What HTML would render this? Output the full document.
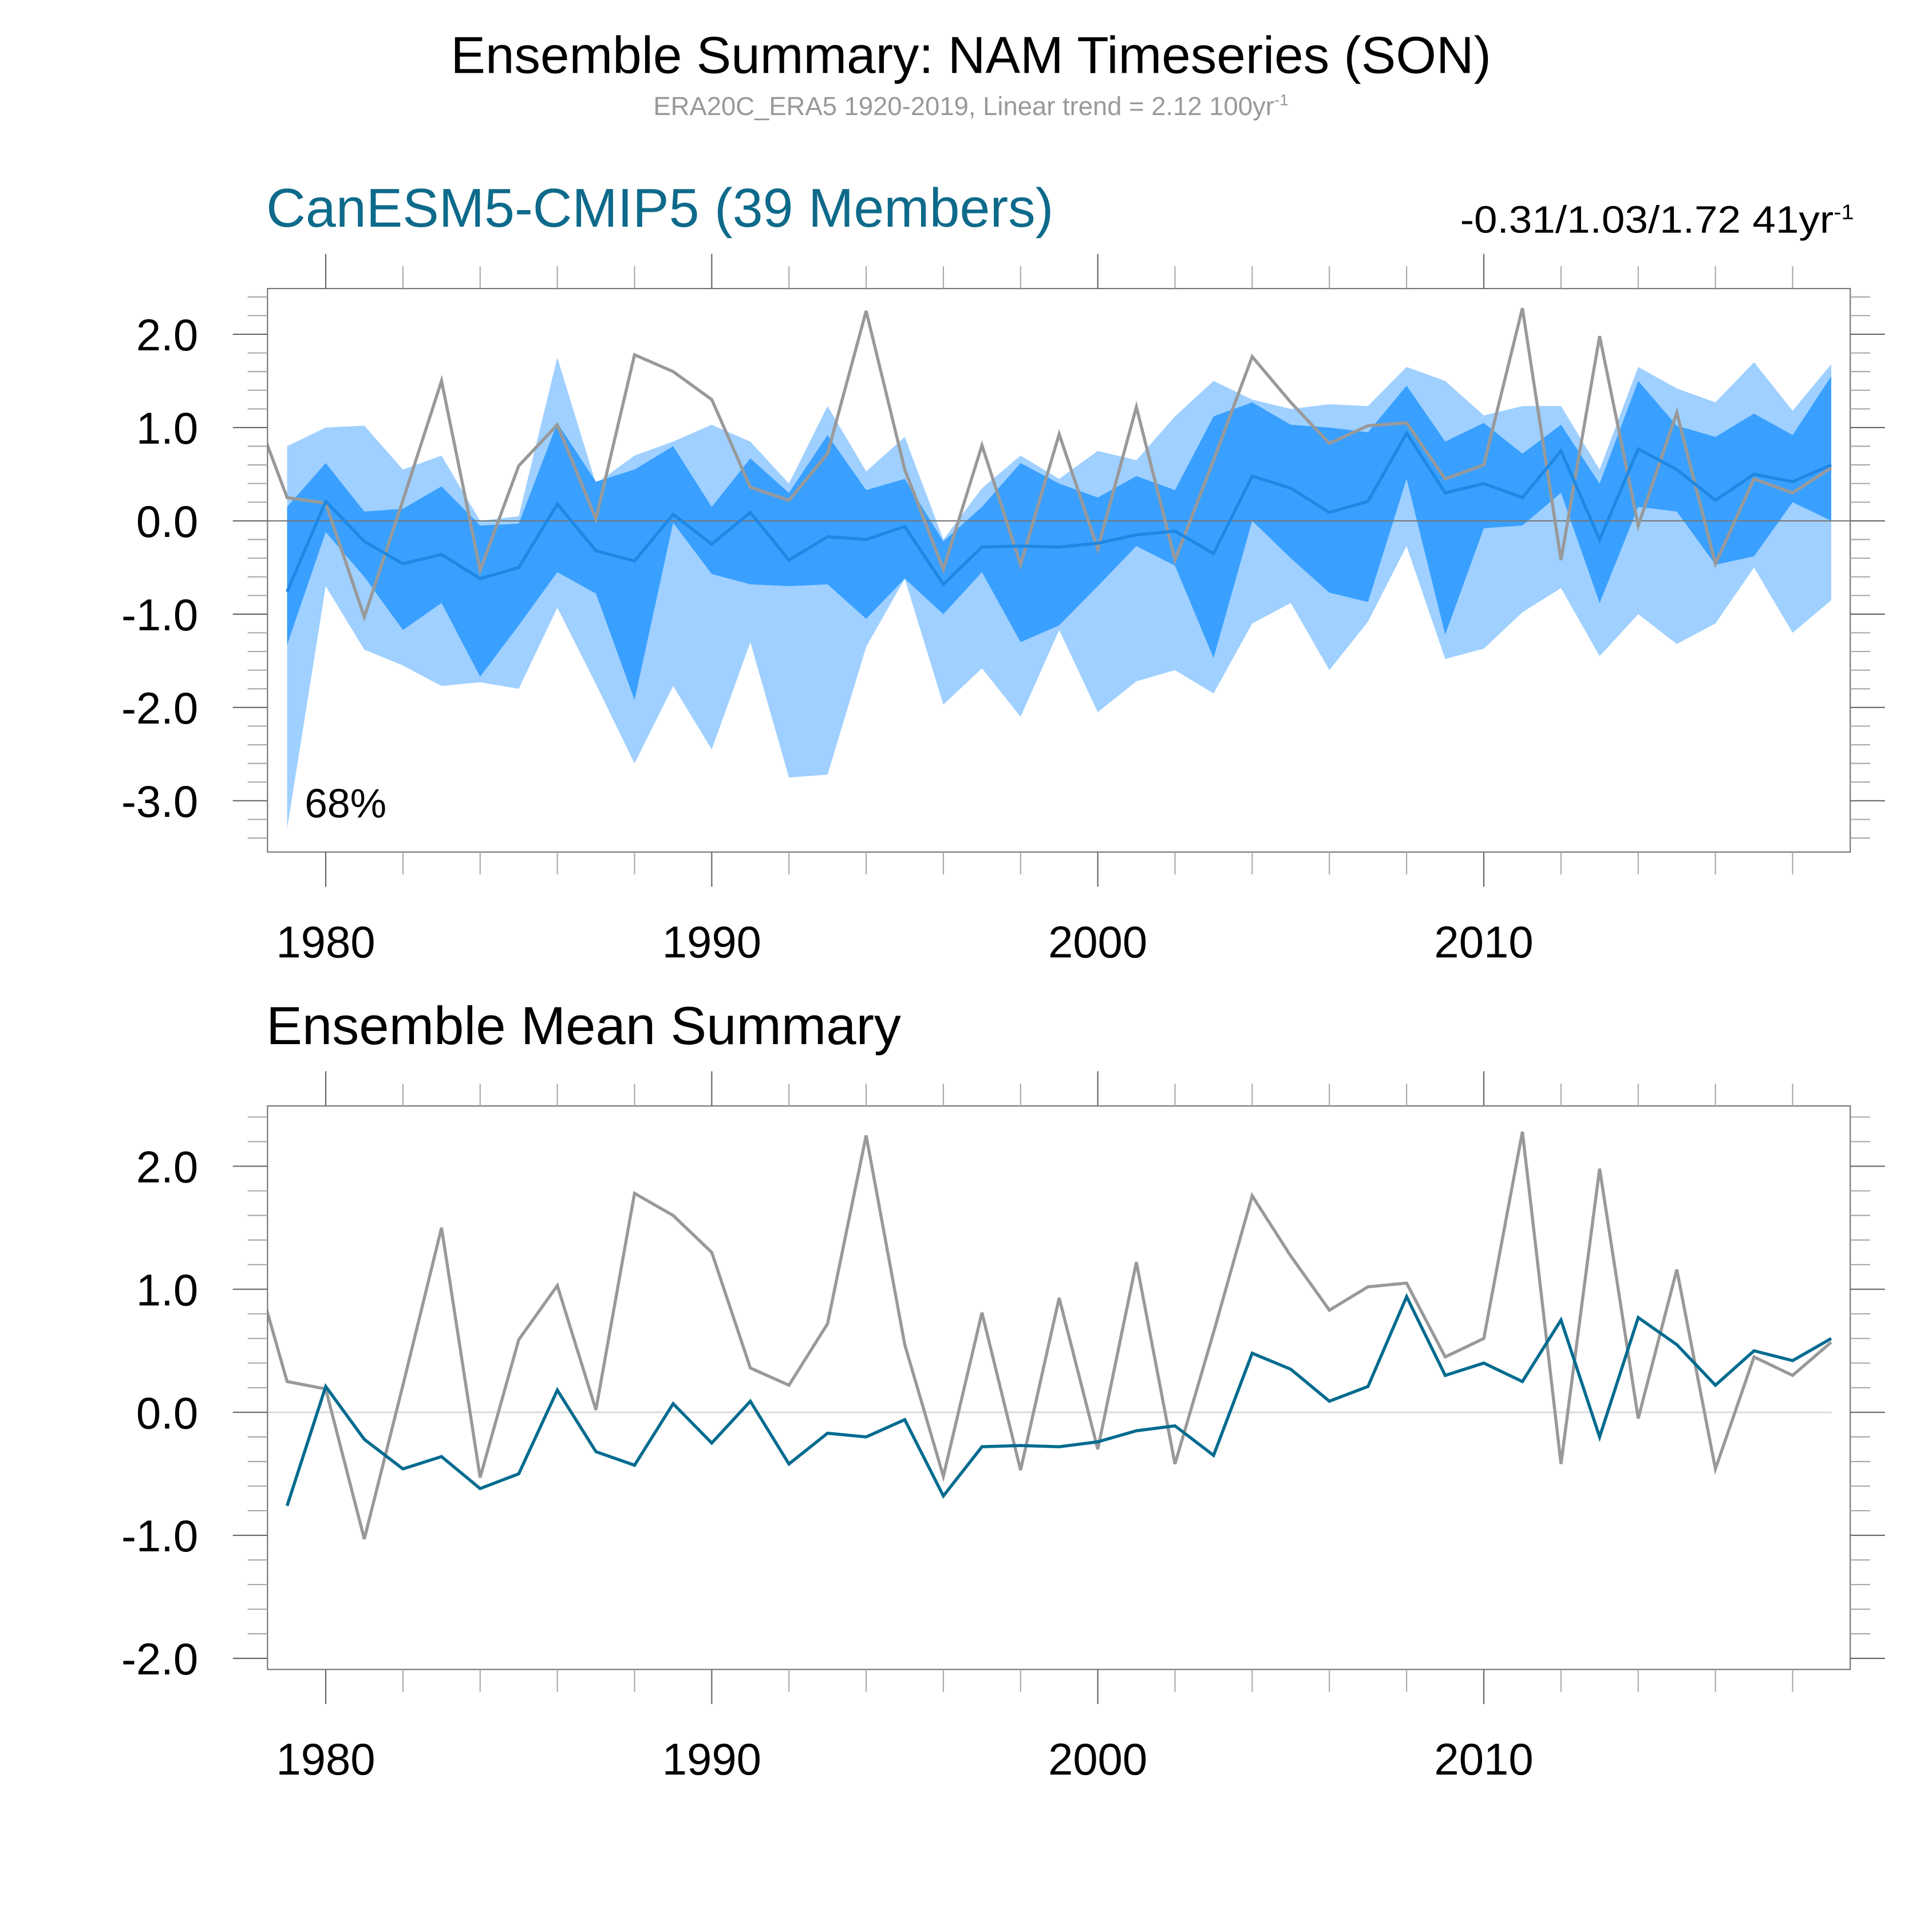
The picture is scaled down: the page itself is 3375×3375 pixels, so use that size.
<!DOCTYPE html>
<html><head><meta charset="utf-8"><style>
html,body{margin:0;padding:0;background:#fff}
svg{display:block;font-family:"Liberation Sans",sans-serif}
</style></head><body>
<svg id="chart" width="3375" height="3375" viewBox="0 0 1560 1560" xmlns="http://www.w3.org/2000/svg">
<rect width="1560" height="1560" fill="#fff"/>
<text x="784" y="59" font-size="42" text-anchor="middle" fill="#000">Ensemble Summary: NAM Timeseries (SON)</text>
<text x="784" y="93" font-size="21" text-anchor="middle" fill="#999">ERA20C_ERA5 1920-2019, Linear trend = 2.12 100yr<tspan dy="-8" font-size="13">-1</tspan></text>
<text x="215" y="183" font-size="44" fill="#0e6a8a">CanESM5-CMIP5 (39 Members)</text>
<text x="1497" y="188" font-size="31" text-anchor="end" fill="#000" textLength="318" lengthAdjust="spacingAndGlyphs">-0.31/1.03/1.72 41yr<tspan dy="-11" font-size="17">-1</tspan></text>
<text x="215" y="843" font-size="43.5" fill="#000">Ensemble Mean Summary</text>
<g id="top"></g>
<g id="bot"></g>
</svg>
<script>
const years=[];for(let y=1979;y<=2019;y++)years.push(y);
const obsYears=[1978].concat(years);
const obsValues=[1.35,0.25,0.19,-1.03,0.22,1.50,-0.53,0.59,1.03,0.02,1.78,1.60,1.30,0.36,0.22,0.72,2.25,0.55,-0.52,0.81,-0.47,0.93,-0.30,1.22,-0.42,0.65,1.76,1.27,0.83,1.02,1.05,0.45,0.60,2.28,-0.42,1.98,-0.05,1.16,-0.46,0.45,0.30,0.57];
const ensMean=[-0.76,0.21,-0.22,-0.46,-0.36,-0.62,-0.50,0.18,-0.32,-0.43,0.07,-0.25,0.09,-0.42,-0.17,-0.20,-0.06,-0.68,-0.28,-0.27,-0.28,-0.24,-0.15,-0.11,-0.35,0.48,0.35,0.09,0.21,0.94,0.30,0.40,0.25,0.75,-0.20,0.77,0.55,0.22,0.50,0.42,0.60];
const outerUpper=[0.80,1.00,1.02,0.55,0.70,0.0,0.05,1.75,0.40,0.70,0.85,1.03,0.85,0.40,1.23,0.53,0.90,-0.20,0.35,0.70,0.45,0.75,0.65,1.12,1.50,1.30,1.20,1.25,1.23,1.65,1.50,1.13,1.23,1.23,0.55,1.65,1.42,1.27,1.70,1.18,1.68];
const innerUpper=[0.15,0.62,0.10,0.13,0.37,-0.05,-0.03,1.05,0.42,0.55,0.80,0.15,0.67,0.30,0.92,0.33,0.45,-0.22,0.15,0.62,0.40,0.25,0.48,0.33,1.12,1.27,1.03,1.00,0.95,1.45,0.85,1.05,0.72,1.03,0.40,1.50,1.02,0.90,1.15,0.92,1.55];
const innerLower=[-1.33,-0.12,-0.60,-1.17,-0.88,-1.67,-1.12,-0.55,-0.78,-1.92,-0.02,-0.57,-0.68,-0.70,-0.68,-1.05,-0.62,-1.00,-0.55,-1.30,-1.12,-0.70,-0.27,-0.48,-1.47,0.0,-0.40,-0.77,-0.87,0.45,-1.22,-0.08,-0.05,0.30,-0.88,0.15,0.10,-0.47,-0.38,0.20,0.0];
const outerLower=[-3.30,-0.70,-1.38,-1.55,-1.77,-1.73,-1.80,-0.93,-1.75,-2.60,-1.77,-2.45,-1.30,-2.75,-2.72,-1.35,-0.62,-1.97,-1.58,-2.10,-1.17,-2.05,-1.72,-1.60,-1.85,-1.10,-0.88,-1.60,-1.08,-0.27,-1.48,-1.37,-0.98,-0.72,-1.45,-1.00,-1.32,-1.10,-0.50,-1.20,-0.85];
const xTickLabels=[1980,1990,2000,2010];
const topYTicks=[2,1,0,-1,-2,-3];
const botYTicks=[2,1,0,-1,-2];

const NS="http://www.w3.org/2000/svg";
const L=216,R=1494;
const xs=y=>263+(y-1980)*31.17;
function mk(parent,tag,attrs){const e=document.createElementNS(NS,tag);for(const k in attrs)e.setAttribute(k,attrs[k]);parent.appendChild(e);return e;}
function panel(g,id,top,bot,ymax,ymin,yticks){
  const ys=v=>top+(ymax-v)/(ymax-ymin)*(bot-top);
  const cp=mk(g,'clipPath',{id:'clip'+id});mk(cp,'rect',{x:L,y:top,width:R-L,height:bot-top});
  return {ys,draw(){
    for(let v=Math.ceil(ymin*5)/5;v<=ymax+1e-9;v+=0.2){const y=ys(v);const maj=Math.abs(v-Math.round(v))<1e-6;
      let t=mk(g,'line',{x1:maj?188:200,x2:L,y1:y,y2:y,stroke:maj?'#666':'#aaa','stroke-width':1});
      
      t=mk(g,'line',{x1:R,x2:maj?1522:1510,y1:y,y2:y,stroke:maj?'#666':'#aaa','stroke-width':1});
      }
    for(let yr=1978;yr<=2020;yr++){if((yr-1980)%2!==0)continue;const x=xs(yr);if(x<L||x>R)continue;const maj=(yr-1980)%10===0;
      let t=mk(g,'line',{x1:x,x2:x,y1:maj?top-28:top-18,y2:top,stroke:maj?'#666':'#aaa','stroke-width':1});
      
      t=mk(g,'line',{x1:x,x2:x,y1:bot,y2:maj?bot+28:bot+18,stroke:maj?'#666':'#aaa','stroke-width':1});
      }
    yticks.forEach(v=>{const t=mk(g,'text',{x:160,y:ys(v)+13,'font-size':36,'text-anchor':'end',fill:'#000'});t.textContent=v.toFixed(1);
      });
    xTickLabels.forEach(v=>{const t=mk(g,'text',{x:xs(v),y:bot+85,'font-size':36,'text-anchor':'middle',fill:'#000'});t.textContent=v;
      });
  }};
}
function band(g,ys,up,lo,fill,name,id){
  let d='M'+years.map((y,i)=>xs(y)+','+ys(up[i])).join('L');
  d+='L'+years.slice().reverse().map((y,j)=>{const i=years.length-1-j;return xs(y)+','+ys(lo[i]);}).join('L')+'Z';
  const p=mk(g,'path',{d,fill,'clip-path':'url(#clip'+id+')'});
  
}
function line(g,ys,xv,yv,stroke,w,name,id){
  const p=mk(g,'polyline',{points:xv.map((y,i)=>xs(y)+','+ys(yv[i])).join(' '),fill:'none',stroke,'stroke-width':w,'stroke-linejoin':'miter','clip-path':'url(#clip'+id+')'});
  
}
const gt=document.getElementById('top');
const T=panel(gt,'t',233,688,2.49,-3.55,topYTicks);
band(gt,T.ys,outerUpper,outerLower,'#9fd0ff','outer-spread-band','t');
band(gt,T.ys,innerUpper,innerLower,'#3aa0ff','inner-spread-band','t');
let z=mk(gt,'line',{x1:L,x2:R,y1:T.ys(0),y2:T.ys(0),stroke:'#777','stroke-width':1});

line(gt,T.ys,obsYears,obsValues,'#999',2.5,'observed-line','t');
line(gt,T.ys,years,ensMean,'#1e88e5',2.5,'ensemble-mean-line','t');
let fr=mk(gt,'rect',{x:L,y:233,width:R-L,height:455,fill:'none',stroke:'#777','stroke-width':1});

T.draw();
let pc=mk(gt,'text',{x:246,y:660,'font-size':33,fill:'#000'});pc.textContent='68%';

const gb=document.getElementById('bot');
const B=panel(gb,'b',893,1348,2.49,-2.09,botYTicks);
z=mk(gb,'line',{x1:L,x2:R-15,y1:B.ys(0),y2:B.ys(0),stroke:'#ddd','stroke-width':1.5});

line(gb,B.ys,obsYears,obsValues,'#999',2.5,'observed-line','b');
line(gb,B.ys,years,ensMean,'#006b8f',2.5,'ensemble-mean-line','b');
fr=mk(gb,'rect',{x:L,y:893,width:R-L,height:455,fill:'none',stroke:'#777','stroke-width':1});

B.draw();
</script>
</body></html>
